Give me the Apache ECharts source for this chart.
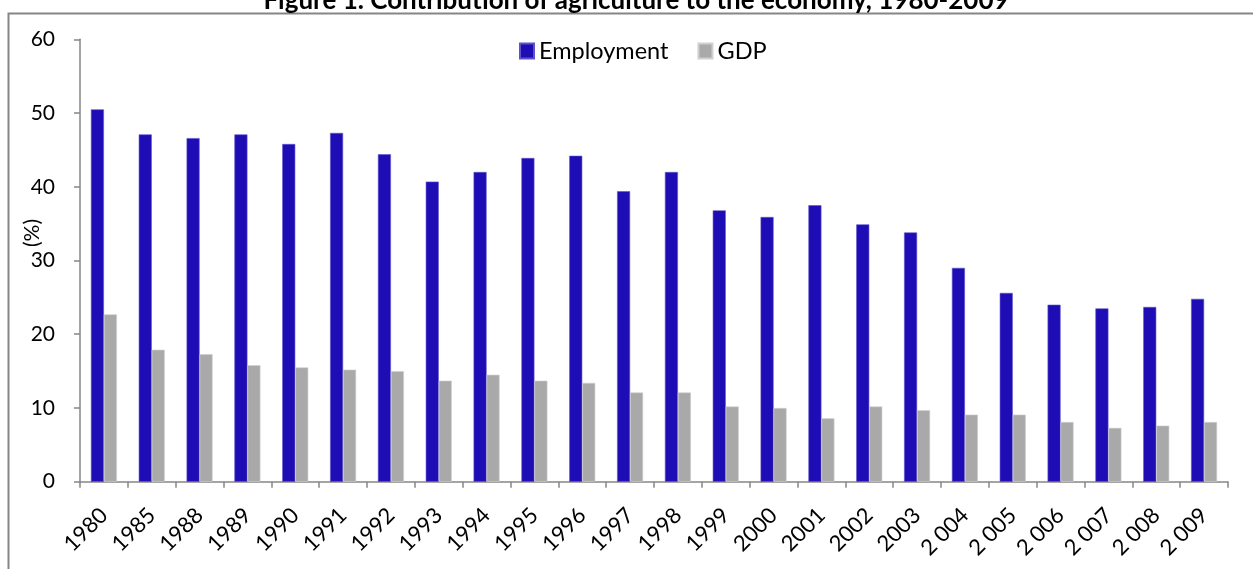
<!DOCTYPE html>
<html>
<head>
<meta charset="utf-8">
<script src="https://cdn.jsdelivr.net/npm/echarts@6/dist/echarts.min.js"></script>
<style>
  html, body { margin: 0; padding: 0; background: #fff; }
  #chart { width: 1253px; height: 569px; }
</style>
</head>
<body>
<div id="chart"></div>
<script>
// Share of agriculture in employment and GDP (%)
const years = ['1980', '1985', '1988', '1989', '1990', '1991', '1992', '1993', '1994', '1995',
  '1996', '1997', '1998', '1999', '2000', '2001', '2002', '2003', '2 004', '2 005',
  '2 006', '2 007', '2 008', '2 009'];
const employment = [50.5, 47.1, 46.6, 47.1, 45.8, 47.3, 44.4, 40.7, 42.0, 43.9,
  44.2, 39.4, 42.0, 36.8, 35.9, 37.5, 34.9, 33.8, 29.0, 25.6,
  24.0, 23.5, 23.7, 24.8];
const gdp = [22.7, 17.9, 17.3, 15.8, 15.5, 15.2, 15.0, 13.7, 14.5, 13.7,
  13.4, 12.1, 12.1, 10.2, 10.0, 8.6, 10.2, 9.7, 9.1, 9.1,
  8.1, 7.3, 7.6, 8.1];
const yTicks = { min: 0, max: 60, interval: 10 };
const titleText = 'Figure 1. Contribution of agriculture to the economy, 1980-2009';

const FONT = 'Lato, "Open Sans", sans-serif';
const AXIS_GREY = '#868686';

const chart = echarts.init(document.getElementById('chart'), null, { renderer: 'canvas' });
chart.setOption({
  animation: false,
  backgroundColor: '#ffffff',
  textStyle: { fontFamily: FONT },
  graphic: [
    {
      // chart frame, running off the right and bottom edges
      type: 'rect',
      shape: { x: 8.5, y: 13.5, width: 1300, height: 700 },
      style: { fill: 'none', stroke: AXIS_GREY, lineWidth: 2 },
      silent: true
    },
    {
      // heading, partly above the top edge
      type: 'text',
      x: 636, y: 14,
      style: {
        text: titleText, fontFamily: FONT, fontWeight: 'bold', fontSize: 26, fill: '#000',
        textAlign: 'center', textVerticalAlign: 'bottom'
      }
    },
    {
      type: 'text',
      x: 32, y: 233,
      rotation: Math.PI / 2,
      style: {
        text: '(%)', fontFamily: FONT, fontSize: 21, fill: '#000',
        textAlign: 'center', textVerticalAlign: 'middle'
      }
    }
  ],
  legend: {
    top: 39,
    left: 519,
    padding: 0,
    icon: 'rect',
    itemWidth: 14,
    itemHeight: 15,
    itemGap: 29,
    textStyle: { fontFamily: FONT, fontSize: 23.5, color: '#000' },
    data: ['Employment', 'GDP']
  },
  grid: { left: 80, right: 25, top: 39.3, bottom: 87.3, containLabel: false },
  xAxis: {
    type: 'category',
    data: years,
    axisLine: { lineStyle: { color: AXIS_GREY, width: 1.5 } },
    axisTick: { show: true, length: 6, lineStyle: { color: AXIS_GREY, width: 1.5 } },
    axisLabel: { rotate: 45, interval: 0, fontSize: 22, color: '#000', margin: 30, fontFamily: FONT }
  },
  yAxis: {
    type: 'value',
    min: yTicks.min, max: yTicks.max, interval: yTicks.interval,
    axisLine: { show: true, lineStyle: { color: AXIS_GREY, width: 1.5 } },
    axisTick: { show: true, inside: false, length: 6, lineStyle: { color: AXIS_GREY, width: 1.5 } },
    axisLabel: { fontSize: 21, color: '#000', margin: 25, fontFamily: FONT },
    splitLine: { show: false }
  },
  series: [
    {
      name: 'Employment',
      type: 'bar',
      data: employment,
      barWidth: 13,
      barGap: '0%',
      itemStyle: { color: '#1E0CB4', borderColor: '#5e52cc', borderWidth: 0.6 }
    },
    {
      name: 'GDP',
      type: 'bar',
      data: gdp,
      barWidth: 13,
      itemStyle: { color: '#A9A9A9', borderColor: '#d0d0d0', borderWidth: 0.6 }
    }
  ]
});
</script>
</body>
</html>
